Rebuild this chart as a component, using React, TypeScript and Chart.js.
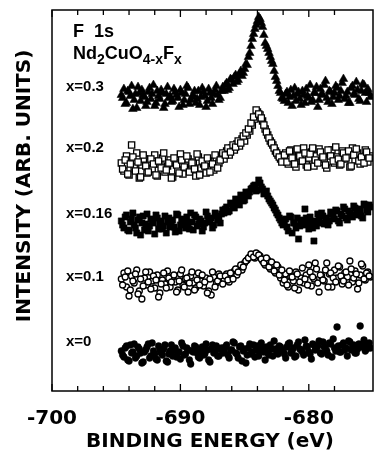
import React, { useEffect, useRef } from "react";
import { Chart, registerables } from "chart.js";

Chart.register(...registerables);

// Binding energy grids (eV) for the two interleaved scans
const energyScanA = [
  -694.6, -694.4, -694.2, -694.0, -693.8, -693.6, -693.4, -693.2, -693.0, -692.8,
  -692.6, -692.4, -692.2, -692.0, -691.8, -691.6, -691.4, -691.2, -691.0, -690.8,
  -690.6, -690.4, -690.2, -690.0, -689.8, -689.6, -689.4, -689.2, -689.0, -688.8,
  -688.6, -688.4, -688.2, -688.0, -687.8, -687.6, -687.4, -687.2, -687.0, -686.8,
  -686.6, -686.4, -686.2, -686.0, -685.8, -685.6, -685.4, -685.2, -685.0, -684.8,
  -684.6, -684.4, -684.2, -684.0, -683.8, -683.6, -683.4, -683.2, -683.0, -682.8,
  -682.6, -682.4, -682.2, -682.0, -681.8, -681.6, -681.4, -681.2, -681.0, -680.8,
  -680.6, -680.4, -680.2, -680.0, -679.8, -679.6, -679.4, -679.2, -679.0, -678.8,
  -678.6, -678.4, -678.2, -678.0, -677.8, -677.6, -677.4, -677.2, -677.0, -676.8,
  -676.6, -676.4, -676.2, -676.0, -675.8, -675.6, -675.4, -675.2,
];
const energyScanB = [
  -694.5, -694.3, -694.1, -693.9, -693.7, -693.5, -693.3, -693.1, -692.9, -692.7,
  -692.5, -692.3, -692.1, -691.9, -691.7, -691.5, -691.3, -691.1, -690.9, -690.7,
  -690.5, -690.3, -690.1, -689.9, -689.7, -689.5, -689.3, -689.1, -688.9, -688.7,
  -688.5, -688.3, -688.1, -687.9, -687.7, -687.5, -687.3, -687.1, -686.9, -686.7,
  -686.5, -686.3, -686.1, -685.9, -685.7, -685.5, -685.3, -685.1, -684.9, -684.7,
  -684.5, -684.3, -684.1, -683.9, -683.7, -683.5, -683.3, -683.1, -682.9, -682.7,
  -682.5, -682.3, -682.1, -681.9, -681.7, -681.5, -681.3, -681.1, -680.9, -680.7,
  -680.5, -680.3, -680.1, -679.9, -679.7, -679.5, -679.3, -679.1, -678.9, -678.7,
  -678.5, -678.3, -678.1, -677.9, -677.7, -677.5, -677.3, -677.1, -676.9, -676.7,
  -676.5, -676.3, -676.1, -675.9, -675.7, -675.5, -675.3,
];

// Intensities (arb. units, spectra offset vertically)
const x03ScanA = [
  296, 302, 288, 299, 305, 291, 283, 298, 301, 294, 289, 303, 297, 285, 300, 292, 298, 287, 304, 295,
  290, 299, 293, 301, 286, 297, 303, 291, 296, 288, 300, 294, 299, 284, 302, 293, 297, 305, 291, 300,
  300, 308, 303, 311, 314, 309, 317, 315, 322, 326, 338, 352, 362, 370, 372, 364, 348, 342, 334, 327,
  314, 305, 298,
  292, 297, 288, 301, 295, 290, 299, 286, 296, 302, 293, 289, 298, 304, 291, 297, 306, 293, 300, 287,
  298, 303, 295, 308, 292, 299, 288, 305, 296, 301, 290, 307, 298, 302, 294,
];
const x03ScanB = [
  293, 287, 300, 295, 282, 297, 304, 290, 296, 285, 299, 292, 306, 288, 295, 301, 283, 297, 293, 289,
  302, 296, 284, 298, 291, 305, 287, 294, 300, 292, 286, 303, 295, 290, 298, 287, 301, 296, 293, 304,
  306, 301, 312, 307, 316, 311, 320, 318, 327, 334, 345, 357, 366, 374, 368, 356, 345, 338, 330, 320,
  310, 300, 293,
  290, 299, 294, 285, 303, 297, 292, 300, 288, 295, 306, 291, 298, 284, 302, 296, 310, 289, 299, 294,
  305, 291, 300, 312, 295, 288, 303, 297, 309, 292, 300, 306, 289, 298,
];
const x02ScanA = [
  228, 220, 235, 216, 246, 224, 238, 213, 226, 232, 218, 229, 222, 236, 215, 227, 233, 219, 225, 231,
  214, 228, 221, 237, 217, 226, 232, 220, 229, 215, 234, 223, 227, 218, 230, 224, 221, 233, 228, 235,
  232, 240, 236, 243, 241, 247, 245, 252, 250, 256, 260, 266, 272, 279, 276, 270, 262, 256, 250, 246,
  240, 236, 232,
  231, 238, 227, 241, 234, 224, 236, 230, 243, 226, 233, 239, 225, 235, 242, 229, 232, 223, 237, 241,
  228, 234, 226, 240, 232, 236, 224, 243, 231, 238, 227, 234, 241, 229, 235,
];
const x02ScanB = [
  222, 231, 217, 227, 234, 220, 229, 214, 236, 225, 219, 232, 227, 216, 230, 223, 238, 221, 228, 213,
  233, 226, 218, 231, 224, 235, 219, 228, 222, 237, 216, 230, 225, 233, 219, 227, 236, 223, 231, 238,
  236, 243, 239, 246, 244, 250, 248, 255, 258, 262, 268, 274, 281, 277, 273, 266, 259, 253, 248, 243,
  238, 234, 229,
  236, 229, 240, 233, 227, 242, 235, 230, 238, 224, 237, 243, 231, 228, 239, 234, 226, 241, 235, 230,
  244, 232, 227, 238, 233, 240, 225, 236, 242, 230, 234, 228, 239, 233,
];
const x016ScanA = [
  170, 163, 176, 160, 172, 166, 158, 174, 168, 161, 177, 165, 170, 157, 173, 167, 162, 175, 169, 164,
  171, 159, 176, 166, 172, 163, 168, 178, 161, 174, 167, 170, 164, 179, 169, 173, 166, 175, 171, 177,
  178, 184, 180, 187, 183, 190, 186, 193, 191, 197, 199, 203, 206, 201, 208, 202, 198, 195, 190, 186,
  181, 176, 171,
  166, 172, 160, 174, 168, 163, 152, 170, 166, 173, 162, 169, 150, 165, 171, 178, 167, 173, 170, 177,
  172, 180, 168, 175, 182, 171, 178, 174, 183, 176, 181, 173, 186, 179, 184,
];
const x016ScanB = [
  166, 174, 161, 169, 178, 163, 171, 156, 175, 167, 160, 172, 168, 176, 162, 170, 165, 158, 173, 169,
  164, 177, 160, 171, 167, 174, 162, 169, 176, 165, 172, 160, 168, 175, 170, 163, 178, 172, 168, 181,
  182, 179, 188, 185, 192, 188, 196, 190, 199, 195, 202, 205, 200, 211, 204, 197, 200, 192, 188, 183,
  178, 173, 168,
  170, 164, 175, 158, 168, 173, 165, 171, 182, 167, 174, 163, 170, 177, 168, 175, 172, 166, 179, 174,
  181, 170, 177, 184, 173, 180, 176, 185, 178, 182, 175, 187, 181, 186,
];
const x01ScanA = [
  112, 118, 104, 95, 115, 108, 121, 100, 92, 113, 106, 119, 110, 103, 116, 98, 111, 107, 120, 104,
  114, 109, 101, 117, 106, 112, 99, 115, 108, 103, 118, 110, 105, 113, 100, 96, 114, 108, 117, 111,
  112, 117, 109, 114, 120, 116, 123, 121, 128, 131, 134, 136, 133, 137, 135, 130, 126, 131, 122, 127,
  118, 124, 113,
  108, 117, 104, 114, 110, 119, 101, 113, 108, 116, 126, 105, 112, 122, 99, 115, 110, 128, 117, 104,
  121, 113, 124, 107, 118, 114, 130, 109, 120, 102, 116, 125, 111, 119, 114,
];
const x01ScanB = [
  106, 114, 120, 101, 110, 117, 97, 112, 105, 119, 109, 102, 115, 111, 94, 107, 118, 103, 113, 109,
  116, 99, 110, 121, 104, 113, 108, 119, 101, 111, 106, 116, 109, 98, 112, 119, 104, 110, 115, 107,
  115, 111, 118, 112, 122, 119, 126, 124, 130, 133, 137, 134, 138, 136, 132, 128, 133, 124, 129, 120,
  126, 116, 121,
  111, 106, 120, 114, 103, 117, 109, 123, 112, 106, 119, 114, 128, 108, 116, 111, 121, 104, 118, 113,
  109, 125, 115, 110, 119, 106, 122, 113, 117, 108, 127, 112, 118, 115,
];
const x0ScanA = [
  40, 34, 45, 30, 38, 47, 35, 42, 28, 39, 44, 33, 48, 37, 31, 41, 36, 46, 29, 40,
  35, 43, 38, 32, 45, 37, 41, 27, 39, 44, 34, 40, 36, 47, 31, 42, 38, 45, 35, 43,
  39, 46, 33, 41, 48, 37, 44, 30, 42, 36, 47, 39, 34, 45, 40, 43, 31, 38, 46, 35,
  42, 37, 44,
  40, 33, 47, 38, 43, 35, 49, 41, 36, 45, 39, 32, 46, 42, 50, 37, 44, 40, 48, 34,
  43, 64, 39, 46, 41, 35, 49, 44, 38, 42, 65, 47, 40, 45, 43,
];
const x0ScanB = [
  36, 43, 31, 46, 39, 33, 44, 38, 29, 41, 47, 35, 40, 32, 45, 38, 42, 30, 37, 46,
  41, 34, 39, 48, 36, 43, 31, 40, 45, 38, 33, 44, 37, 41, 29, 46, 39, 35, 42, 38,
  44, 36, 41, 49, 38, 33, 45, 40, 28, 43, 37, 46, 41, 35, 48, 39, 44, 36, 42, 50,
  38, 45, 41,
  37, 44, 48, 40, 34, 46, 42, 39, 51, 44, 37, 47, 41, 45, 38, 49, 43, 36, 47, 52,
  40, 45, 39, 48, 43, 50, 41, 46, 38, 47, 44, 51, 42, 48,
];

const seriesLabels = ["x=0.3", "x=0.2", "x=0.16", "x=0.1", "x=0"];
const xTickLabels = [-700, -690, -680];

const toPoints = (a: number[], b: number[]) => [
  ...a.map((y, i) => ({ x: energyScanA[i], y })),
  ...b.map((y, i) => ({ x: energyScanB[i], y })),
];

const SANS = '"Liberation Sans", Arial, sans-serif';
const WIDE = '"DejaVu Sans", sans-serif';

const decorPlugin = {
  id: "decor",
  afterDraw(chart: any) {
    const { ctx, chartArea, scales } = chart;
    const { left, right, top, bottom } = chartArea;
    const xs = scales.x;
    const ys = scales.y;
    ctx.save();
    ctx.strokeStyle = "#000";
    ctx.lineWidth = 1.5;
    ctx.strokeRect(left, top, right - left, bottom - top);
    ctx.lineWidth = 1.3;
    xs.ticks.forEach((t: any) => {
      if (Math.abs(t.value % 2) > 1e-6) return;
      const px = xs.getPixelForValue(t.value);
      const len = t.value % 10 === 0 ? 7 : 5;
      ctx.beginPath();
      ctx.moveTo(px, bottom);
      ctx.lineTo(px, bottom - len);
      ctx.moveTo(px, top);
      ctx.lineTo(px, top + len);
      ctx.stroke();
    });
    ctx.fillStyle = "#000";
    ctx.textBaseline = "alphabetic";
    ctx.textAlign = "left";
    ctx.font = `bold 18px ${SANS}`;
    ctx.fillText("F  1s", 73, 37);
    const parts: [string, boolean][] = [
      ["Nd", false], ["2", true], ["CuO", false], ["4-x", true], ["F", false], ["x", true],
    ];
    let cx = 73;
    parts.forEach(([txt, sub]) => {
      ctx.font = sub ? `bold 14px ${SANS}` : `bold 18px ${SANS}`;
      ctx.fillText(txt, cx, sub ? 64 : 59);
      cx += ctx.measureText(txt).width;
    });
    const labelVals = [304, 243, 177, 114, 49];
    ctx.font = `bold 15px ${SANS}`;
    ctx.textBaseline = "middle";
    seriesLabels.forEach((s, i) => {
      ctx.fillText(s, 66, ys.getPixelForValue(labelVals[i]));
    });
    ctx.font = `bold 20px ${WIDE}`;
    ctx.textBaseline = "alphabetic";
    ctx.textAlign = "center";
    ctx.fillText("BINDING ENERGY (eV)", 210, 447);
    ctx.save();
    ctx.translate(30, 186);
    ctx.rotate(-Math.PI / 2);
    ctx.fillText("INTENSITY (ARB. UNITS)", 0, 0);
    ctx.restore();
    ctx.restore();
  },
};

export default function App() {
  const ref = useRef<HTMLCanvasElement | null>(null);
  useEffect(() => {
    if (!ref.current) return;
    const chart = new Chart(ref.current, {
      type: "scatter",
      data: {
        datasets: [
          {
            label: seriesLabels[0],
            data: toPoints(x03ScanA, x03ScanB),
            pointStyle: "triangle",
            pointRadius: 5,
            backgroundColor: "#000",
            borderColor: "#000",
            borderWidth: 0.5,
          },
          {
            label: seriesLabels[1],
            data: toPoints(x02ScanA, x02ScanB),
            pointStyle: "rect",
            pointRadius: 4.4,
            backgroundColor: "#fff",
            borderColor: "#000",
            borderWidth: 1.3,
          },
          {
            label: seriesLabels[2],
            data: toPoints(x016ScanA, x016ScanB),
            pointStyle: "rect",
            pointRadius: 4.4,
            backgroundColor: "#000",
            borderColor: "#000",
            borderWidth: 0.5,
          },
          {
            label: seriesLabels[3],
            data: toPoints(x01ScanA, x01ScanB),
            pointStyle: "circle",
            pointRadius: 3,
            backgroundColor: "#fff",
            borderColor: "#000",
            borderWidth: 1.3,
          },
          {
            label: seriesLabels[4],
            data: toPoints(x0ScanA, x0ScanB),
            pointStyle: "circle",
            pointRadius: 3.4,
            backgroundColor: "#000",
            borderColor: "#000",
            borderWidth: 0.5,
          },
        ],
      },
      options: {
        animation: false,
        responsive: false,
        events: [],
        layout: { padding: { top: 10, right: 1, left: 0, bottom: 0 } },
        plugins: { legend: { display: false }, tooltip: { enabled: false } },
        scales: {
          x: {
            type: "linear",
            min: -700,
            max: -675,
            grid: { display: false },
            border: { display: false },
            afterFit: (s: any) => { s.height = 61; },
            ticks: {
              stepSize: 2,
              autoSkip: false,
              maxRotation: 0,
              padding: 8,
              color: "#000",
              font: { family: WIDE, size: 20, weight: "bold" },
              callback: (v: any) => (xTickLabels.includes(Number(v)) ? String(v) : ""),
            },
          },
          y: {
            type: "linear",
            min: 0,
            max: 381,
            grid: { display: false },
            border: { display: false },
            ticks: { display: false },
            afterFit: (s: any) => { s.width = 52; },
          },
        },
      },
      plugins: [decorPlugin],
    });
    return () => chart.destroy();
  }, []);
  return (
    <div style={{ position: "fixed", left: 0, top: 0, width: 381, height: 452, background: "#fff" }}>
      <canvas ref={ref} width={381} height={452} style={{ display: "block" }} />
    </div>
  );
}
